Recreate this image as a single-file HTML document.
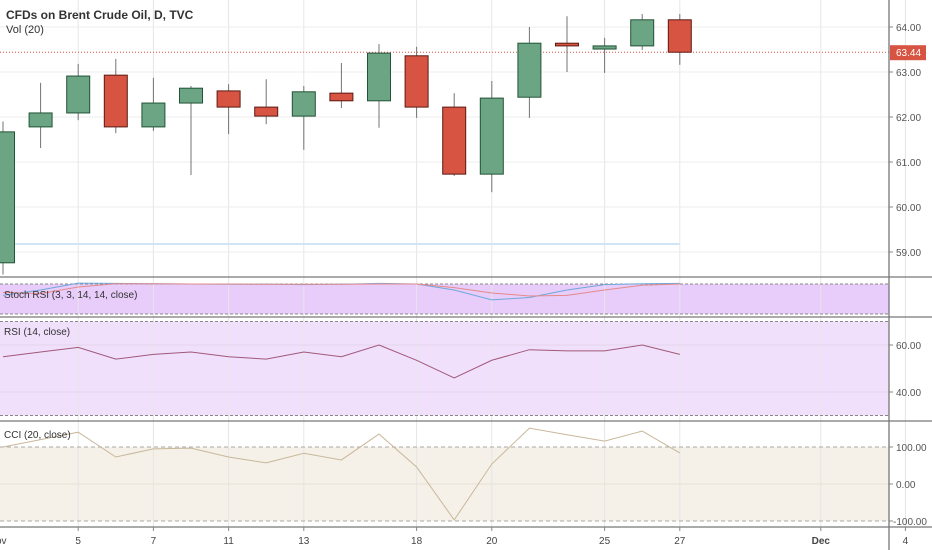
<!DOCTYPE html>
<html><head><meta charset="utf-8"><style>
body{margin:0;background:#fff;font-family:"Liberation Sans",sans-serif;}
#wrap{position:relative;width:932px;height:550px;overflow:hidden;}
svg text{font-family:"Liberation Sans",sans-serif;}
</style></head><body>
<div id="wrap">
<svg id="chart" width="932" height="550"></svg>
</div>
<script>
const dates = ["1","4","5","6","7","8","11","12","13","14","15","18","19","20","21","22","25","26","27"];
const opens  = [58.76,61.78,62.09,62.93,61.78,62.31,62.58,62.22,62.02,62.53,62.36,63.36,62.22,60.73,62.44,63.64,63.51,63.58,64.16];
const closes = [61.67,62.09,62.91,61.78,62.31,62.64,62.22,62.02,62.56,62.36,63.42,62.22,60.73,62.42,63.64,63.58,63.58,64.16,63.44];
const highs  = [61.9,62.76,63.18,63.29,62.87,62.69,62.73,62.84,62.69,63.2,63.62,63.56,62.53,62.8,64.0,64.24,63.76,64.29,64.29];
const lows   = [58.5,61.31,61.93,61.64,61.69,60.71,61.62,61.84,61.27,62.2,61.76,61.98,60.69,60.33,61.98,63.0,62.98,63.49,63.16];
const rsi    = [55,57,59,54,56,57,55,54,57,55,60,53.5,46,53.5,58,57.5,57.5,60,56];
const cci    = [100,120,140,73,95,97,73,57,83,65,135,46,-97,54,151,133,116,143,84];
const stochK = [62,80,103,102,101,100,99,99,98,99,102,100,80,47,55,80,98,101,102];
const stochD = [72,68,90,101,101,100,100,99,99,99,100,100,88,70,60,62,80,96,100];
const priceTicks = [64,63,62,61,60,59];
const rsiTicks = [60,40];
const cciTicks = [100,0,-100];
const xLabels = [["5",2],["7",4],["11",6],["13",8],["18",11],["20",13],["25",16],["27",18],["Dec",21.75],["4",24]];

const NS="http://www.w3.org/2000/svg";
const svg=document.getElementById('chart');
function mk(tag,attrs,parent){const e=document.createElementNS(NS,tag);for(const k in attrs)e.setAttribute(k,attrs[k]);(parent||svg).appendChild(e);return e;}
const xOf=i=>3+i*37.6;
const yP=p=>27+(64-p)*45;
const yR=v=>345+(60-v)*2.35;
const yC=v=>484-v*0.37;
const yS=v=>314-v*0.3;
const AX=889;

let e;
e=mk('rect',{x:0,y:284,width:AX,height:30,fill:'#e8ccfa'});

e=mk('rect',{x:0,y:yR(70),width:AX,height:yR(30)-yR(70),fill:'#f1e0fb'});

e=mk('rect',{x:0,y:yC(100),width:AX,height:yC(-100)-yC(100),fill:'#f5f0e8'});


xLabels.forEach(l=>{const x=xOf(l[1]);
 e=mk('line',{x1:x,x2:x,y1:0,y2:527,stroke:'#e6e6e6','stroke-width':1});
 });
priceTicks.forEach(p=>{e=mk('line',{x1:0,x2:AX,y1:yP(p),y2:yP(p),stroke:'#ececec'});
 
 e=mk('text',{x:896,y:yP(p)+4,'font-size':10,fill:'#555'});e.textContent=p.toFixed(2);
 
 mk('line',{x1:AX,x2:AX+4,y1:yP(p),y2:yP(p),stroke:'#888'});});
rsiTicks.forEach(v=>{e=mk('line',{x1:0,x2:AX,y1:yR(v),y2:yR(v),stroke:'#e2d4ec'});
 
 e=mk('text',{x:896,y:yR(v)+4,'font-size':10,fill:'#555'});e.textContent=v.toFixed(2);
 
 mk('line',{x1:AX,x2:AX+4,y1:yR(v),y2:yR(v),stroke:'#888'});});
cciTicks.forEach(v=>{e=mk('line',{x1:0,x2:AX,y1:yC(v),y2:yC(v),stroke:v===0?'#e6e0d6':'#aaa','stroke-dasharray':v===0?'':'4,3'});
 
 e=mk('text',{x:v<0?893:896,y:yC(v)+4,'font-size':10,fill:'#555'});e.textContent=v.toFixed(2);
 
 mk('line',{x1:AX,x2:AX+4,y1:yC(v),y2:yC(v),stroke:'#888'});});
[[284],[314],[yR(70)],[yR(30)]].forEach(a=>{e=mk('line',{x1:0,x2:AX,y1:a[0],y2:a[0],stroke:'#888','stroke-dasharray':'3,2'});
 });

e=mk('line',{x1:0,x2:xOf(18),y1:244,y2:244,stroke:'#cfe6f7','stroke-width':2});


const last=closes[closes.length-1];
e=mk('line',{x1:0,x2:AX,y1:yP(last),y2:yP(last),stroke:'#e05040','stroke-dasharray':'1,2'});


dates.forEach((d,i)=>{const x=xOf(i),up=closes[i]>=opens[i];
 const fill=up?'#6ba583':'#d75442',stroke=up?'#225437':'#5b1a13';
 const g=mk('g',{});
 
 mk('line',{x1:x,x2:x,y1:yP(highs[i]),y2:yP(lows[i]),stroke:'#737375'},g);
 const t=yP(Math.max(opens[i],closes[i])),b=yP(Math.min(opens[i],closes[i]));
 mk('rect',{x:x-11.5,y:t,width:23,height:Math.max(b-t,2),fill:fill,stroke:stroke,'stroke-width':1},g);});

function poly(arr,yf,color,name,w){const pts=arr.map((v,i)=>xOf(i)+','+yf(v)).join(' ');
 const p=mk('polyline',{points:pts,fill:'none',stroke:color,'stroke-width':w||1});
 }
poly(stochK,yS,'#6fa8dc','stoch-k-line');
poly(stochD,yS,'#e48b8b','stoch-d-line');
poly(rsi,yR,'#a0587a','rsi-line');
poly(cci,yC,'#c8b89a','cci-line');

[277,317,421,527].forEach(y=>{e=mk('line',{x1:0,x2:932,y1:y,y2:y,stroke:'#777','stroke-width':1.3});
 });
e=mk('line',{x1:AX,x2:AX,y1:0,y2:550,stroke:'#777','stroke-width':1.3});


e=mk('rect',{x:AX+1,y:yP(last)-7,width:36,height:15,fill:'#d75442'});

e=mk('text',{x:896,y:yP(last)+4,'font-size':10,fill:'#fff'});e.textContent=last.toFixed(2);


xLabels.forEach(l=>{const x=xOf(l[1]);
 mk('line',{x1:x,x2:x,y1:527,y2:531,stroke:'#888'});
 e=mk('text',{x:x,y:544,'font-size':10,fill:'#444','text-anchor':'middle','font-weight':l[0]==='Dec'?'bold':'normal'});e.textContent=l[0];
 });
e=mk('text',{x:-4,y:544,'font-size':10,fill:'#444'});e.textContent='ov';


function txt(x,y,s,str,name,fw){const t=mk('text',{x:x,y:y,'font-size':s,fill:'#333','font-weight':fw||'normal'});t.textContent=str;
 }
txt(6,19,12,'CFDs on Brent Crude Oil, D, TVC','chart-title','bold');
txt(6,33,11,'Vol (20)','volume-label');
txt(4,298,10,'Stoch RSI (3, 3, 14, 14, close)','stoch-rsi-label');
txt(4,335,10,'RSI (14, close)','rsi-label');
txt(4,438,10,'CCI (20, close)','cci-label');
</script>
</body></html>
